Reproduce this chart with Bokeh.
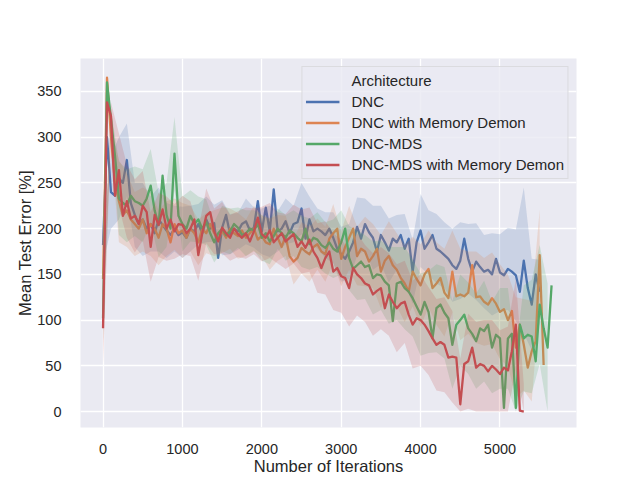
import numpy as np
from bokeh.plotting import figure
from bokeh.models import Range1d, FixedTicker, Legend, LegendItem
from bokeh.embed import file_html
from bokeh.resources import INLINE

STEP = 50        # iterations between logged points
BAND_STEP = 100  # iterations between CI samples

series_names = ["DNC", "DNC with Memory Demon", "DNC-MDS", "DNC-MDS with Memory Demon"]
colors = ["#4c72b0", "#dd8452", "#55a868", "#c44e52"]

dnc = [
    182, 300, 240, 236, 255, 250, 275, 228, 215, 205,
    210, 200, 205, 195, 210, 204, 198, 193, 200, 193,
    196, 190, 200, 197, 205, 195, 210, 200, 206, 168,
    201, 215, 194, 200, 197, 205, 208, 198, 201, 230,
    197, 223, 197, 243, 197, 200, 208, 195, 205, 207,
    222, 189, 210, 197, 200, 197, 193, 200, 190, 178,
    172, 167, 175, 185, 202, 189, 205, 196, 190, 175,
    193, 185, 176, 189, 185, 193, 178, 189, 153, 185,
    198, 178, 185, 193, 178, 175, 171, 167, 160, 156,
    165, 189, 167, 153, 164, 158, 153, 155, 150, 167,
    152, 149, 156, 153, 149, 131, 165, 135, 117, 150,
    131,
]
dnc_md = [
    145, 365, 300, 250, 230, 215, 220, 210, 205, 200,
    210, 195, 205, 200, 190, 205, 200, 185, 205, 195,
    198, 190, 200, 195, 185, 200, 195, 205, 195, 188,
    198, 190, 200, 195, 192, 198, 190, 195, 200, 188,
    192, 185, 183, 200, 190, 180, 192, 170, 164, 168,
    179, 175, 172, 180, 183, 175, 172, 189, 195, 200,
    167, 180, 190, 200, 170, 178, 175, 164, 170, 178,
    153, 165, 170, 160, 155, 146, 140, 131, 153, 145,
    138, 150, 156, 135, 140, 146, 130, 124, 153, 126,
    128, 126, 130, 160, 125, 126, 120, 117, 124, 118,
    109, 112, 100, 110, 70, 95, 73, 48, 66, 77,
    171, 51,
]
dnc_mds = [
    102, 360, 320, 280, 233, 228, 225, 236, 230, 228,
    225, 233, 247, 220, 204, 258, 215, 200, 282, 214,
    205, 200, 214, 205, 210, 200, 207, 195, 185, 195,
    200, 193, 197, 205, 201, 193, 195, 200, 198, 205,
    190, 195, 186, 192, 200, 195, 190, 198, 195, 190,
    186, 200, 183, 190, 188, 182, 179, 185, 178, 175,
    185, 200, 168, 156, 160, 164, 158, 160, 146, 150,
    149, 142, 138, 99, 140, 142, 135, 131, 124, 115,
    106, 120, 109, 80, 113, 117, 108, 102, 73, 95,
    100, 106, 91, 85, 77, 91, 88, 95, 70, 84,
    80, 4, 80, 85, 4, 95, 80, 84, 82, 55,
    117, 91, 70, 138,
]
dnc_mds_md = [
    91, 338, 323, 236, 264, 214, 230, 211, 214, 205,
    225, 218, 180, 215, 204, 221, 200, 210, 197, 205,
    204, 195, 200, 210, 171, 195, 214, 218, 197, 186,
    201, 195, 190, 200, 194, 190, 195, 186, 197, 212,
    194, 190, 198, 185, 190, 195, 186, 190, 194, 180,
    186, 179, 188, 175, 168, 157, 168, 175, 153, 157,
    148, 146, 135, 157, 150, 146, 140, 138, 128, 132,
    135, 113, 128, 120, 113, 118, 120, 106, 95, 102,
    100, 95, 88, 80, 73, 76, 73, 59, 60, 59,
    8, 52, 55, 70, 48, 52, 50, 44, 50, 46,
    41, 48, 45, 66, 95, 1, 0,
]

# CI half-widths, one value per 100 iterations
dnc_ci = [
    20, 40, 45, 40, 35, 40,
    30, 35, 30, 25, 28,
    25, 22, 25, 20, 30,
    22, 20, 25, 22, 25,
    28, 22, 25, 20, 28,
    25, 22, 25, 28, 30,
    30, 32, 28, 35, 32,
    35, 30, 38, 35, 40,
    35, 38, 36, 40, 42,
    38, 42, 40, 45, 42,
    45, 50, 80, 50, 35,
]
dnc_md_ci = [
    30, 10, 45, 40, 35, 35,
    35, 30, 30, 28, 30,
    25, 25, 22, 25, 25,
    22, 25, 20, 25, 22,
    28, 25, 22, 25, 28,
    30, 28, 30, 32, 30,
    35, 32, 38, 35, 40,
    38, 40, 42, 38, 45,
    42, 45, 48, 45, 50,
    45, 50, 48, 50, 52,
    50, 55, 50, 55, 50,
]
dnc_mds_ci = [
    25, 10, 40, 40, 38, 40,
    40, 35, 35, 40, 30,
    28, 25, 25, 22, 25,
    25, 22, 25, 22, 25,
    25, 22, 25, 25, 28,
    28, 30, 28, 32, 35,
    35, 38, 35, 40, 38,
    42, 40, 45, 42, 45,
    45, 48, 50, 48, 50,
    50, 52, 55, 50, 55,
    55, 60, 58, 62, 65, 70,
]
dnc_mds_md_ci = [
    40, 15, 40, 40, 40, 38,
    38, 35, 35, 30, 32,
    30, 28, 30, 25, 28,
    25, 25, 28, 25, 30,
    30, 28, 30, 32, 35,
    35, 38, 40, 42, 40,
    42, 45, 42, 45, 45,
    45, 48, 45, 48, 50,
    48, 50, 52, 50, 50,
    52, 50, 50, 50, 48,
    48, 50, 30,
]

means = [dnc, dnc_md, dnc_mds, dnc_mds_md]
cis = [dnc_ci, dnc_md_ci, dnc_mds_ci, dnc_mds_md_ci]

x_ticks = [0, 1000, 2000, 3000, 4000, 5000]
y_ticks = [0, 50, 100, 150, 200, 250, 300, 350]

FONT = "Liberation Sans"
TXT = "#262626"

p = figure(width=640, height=480, output_backend="svg", toolbar_location=None,
           x_range=Range1d(-284, 5964), y_range=Range1d(-17.4, 386),
           min_border_left=80, min_border_right=64, min_border_top=58,
           min_border_bottom=53,
           background_fill_color="#eaeaf2", border_fill_color="white",
           outline_line_color=None)

for ax in (p.xaxis[0], p.yaxis[0]):
    ax.axis_line_color = None
    ax.major_tick_line_color = None
    ax.minor_tick_line_color = None
    ax.major_label_text_font = FONT
    ax.major_label_text_font_size = "14.5px"
    ax.major_label_text_color = TXT
    ax.axis_label_text_font = FONT
    ax.axis_label_text_font_size = "16.5px"
    ax.axis_label_text_font_style = "normal"
    ax.axis_label_text_color = TXT

p.xaxis.ticker = FixedTicker(ticks=x_ticks)
p.yaxis.ticker = FixedTicker(ticks=y_ticks)
p.xaxis.axis_label = "Number of Iterations"
p.yaxis.axis_label = "Mean Test Error [%]"
p.xaxis.major_label_standoff = 10
p.xaxis.axis_label_standoff = 0
p.yaxis.major_label_standoff = 13
p.yaxis.axis_label_standoff = 0

p.xgrid.ticker = FixedTicker(ticks=x_ticks)
p.ygrid.ticker = FixedTicker(ticks=y_ticks)
p.grid.grid_line_color = "white"
p.grid.grid_line_width = 1.3

items = []
dummy = p.line(x=[0, 0], y=[0, 0], line_alpha=0)
items.append(LegendItem(label="Architecture", renderers=[dummy]))

for name, col, m, ci in zip(series_names, colors, means, cis):
    m = np.array(m, dtype=float)
    x = np.arange(len(m)) * STEP
    r = p.line(x, m, line_color=col, line_width=2.3, line_join="round")
    bx = np.arange(len(ci)) * BAND_STEP
    bm = m[::BAND_STEP // STEP]
    c = np.array(ci, dtype=float)
    p.varea(x=bx, y1=np.maximum(bm - c, 0), y2=bm + c, fill_color=col, fill_alpha=0.2)
    items.append(LegendItem(label=name, renderers=[r]))

legend = Legend(items=items, location="top_right", margin=8, padding=3, spacing=0,
                label_height=21, glyph_height=21, glyph_width=34, label_standoff=12,
                label_text_font=FONT, label_text_font_size="15px", label_text_color=TXT,
                border_line_color="#cccccc", border_line_width=1,
                background_fill_color="#eaeaf2", background_fill_alpha=0.8)
p.add_layout(legend)

open("out.html", "w").write(file_html(p, INLINE))
